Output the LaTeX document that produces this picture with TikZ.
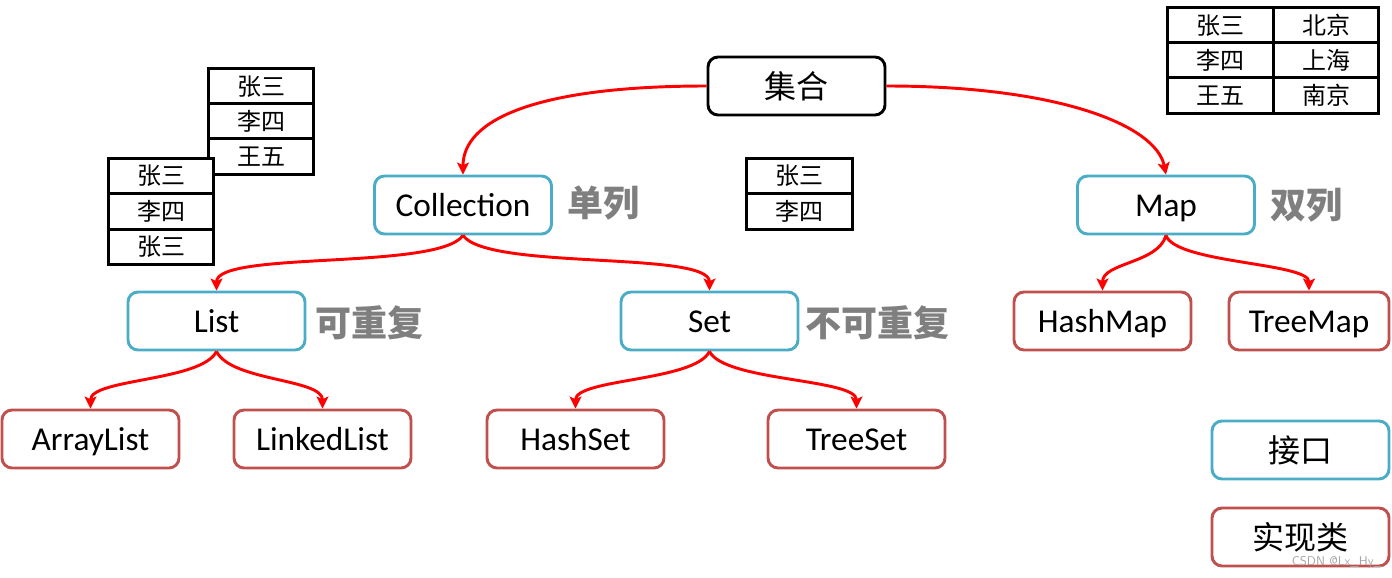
\documentclass[tikz,border=0pt]{standalone}
\usepackage{fontspec}
\setmainfont{Carlito}
\newfontfamily\cjk{Noto Sans CJK SC}
\usetikzlibrary{arrows.meta}
\definecolor{ifblue}{HTML}{4BACC6}
\definecolor{imred}{HTML}{C0504D}
\definecolor{arrred}{HTML}{FF0000}
\definecolor{lblgray}{HTML}{7F7F7F}
\tikzset{
  box/.style={rounded corners=7.5pt, line width=2.2pt, minimum width=132.75pt, minimum height=43.5pt, inner sep=0pt, fill=white, font=\fontsize{24}{26}\selectfont},
  lat/.style={font=\fontsize{25}{27}\selectfont, text height=21.5pt, text depth=5pt},
  rootbox/.style={box, draw=black},
  ifbox/.style={box, draw=ifblue},
  imbox/.style={box, draw=imred},
  cell/.style={draw=black, line width=2.2pt, fill=white, minimum width=79pt, minimum height=26.5pt, inner sep=0pt, font=\cjk\fontsize{18}{20}\selectfont},
  lbl/.style={text=lblgray, font=\cjk\bfseries\fontsize{27}{29}\selectfont, inner sep=0pt},
  arr/.style={draw=arrred, line width=2.2pt, -{Stealth[length=9pt,width=9pt,inset=2pt]}},
}
\begin{document}
\begin{tikzpicture}[x=0.75pt,y=-0.75pt]
\useasboundingbox (0,0) rectangle (1392,578);
% tables
\node[cell] (ta1) at (261,86.5) {张三};
\node[cell] (ta2) at (261,121.5) {李四};
\node[cell] (ta3) at (261,156.5) {王五};
\node[cell] (tb1) at (161,176) {张三};
\node[cell] (tb2) at (161,211.5) {李四};
\node[cell] (tb3) at (161,247) {张三};
\node[cell] (tc1) at (799.5,176) {张三};
\node[cell] (tc2) at (799.5,211.5) {李四};
\node[cell] (td1) at (1220.5,25.5) {张三};
\node[cell] (td2) at (1220.5,60.5) {李四};
\node[cell] (td3) at (1220.5,95.5) {王五};
\node[cell] (te1) at (1326,25.5) {北京};
\node[cell] (te2) at (1326,60.5) {上海};
\node[cell] (te3) at (1326,95.5) {南京};
% boxes
\node[rootbox] (root) at (796.5,86) {\cjk 集合};
\node[ifbox, lat] (coll) at (463,205) {Collection};
\node[ifbox, lat] (map) at (1166,205) {Map};
\node[ifbox, lat] (list) at (216.5,321) {List};
\node[ifbox, lat] (set) at (709.5,321) {Set};
\node[imbox, lat] (hmap) at (1102.5,321) {HashMap};
\node[imbox, lat, minimum width=120pt] (tmap) at (1309,321) {TreeMap};
\node[imbox, lat] (alist) at (90.5,439) {ArrayList};
\node[imbox, lat] (llist) at (322.5,439) {LinkedList};
\node[imbox, lat] (hset) at (575.5,439) {HashSet};
\node[imbox, lat] (tset) at (856.5,439) {TreeSet};
\node[ifbox] (legif) at (1300.5,450) {\cjk 接口};
\node[imbox] (legim) at (1300.5,537) {\cjk 实现类};
% labels
\node[lbl] (l1) at (603,203) {单列};
\node[lbl] (l2) at (1306,205) {双列};
\node[lbl] (l3) at (369,323) {可重复};
\node[lbl] (l4) at (877,323) {不可重复};
\node[text=black!35, font=\sffamily\fontsize{9.5}{10}\selectfont, inner sep=0pt] (wm) at (1337,562) {CSDN @Lx\_Hy\_};
% arrows
\draw[arr] (root.west) .. controls +(-170,0) and +(0,-55) .. (coll.north);
\draw[arr] (root.east) .. controls +(170,0) and +(-10,-50) .. (map.north);
\draw[arr] (coll.south) .. controls +(-25,35) and +(0,-40) .. (list.north);
\draw[arr] (coll.south) .. controls +(25,35) and +(0,-40) .. (set.north);
\draw[arr] (list.south) .. controls +(-15,30) and +(0,-30) .. (alist.north);
\draw[arr] (list.south) .. controls +(15,30) and +(0,-30) .. (llist.north);
\draw[arr] (set.south) .. controls +(-15,30) and +(0,-30) .. (hset.north);
\draw[arr] (set.south) .. controls +(15,30) and +(0,-30) .. (tset.north);
\draw[arr] (map.south) .. controls +(-8,28) and +(0,-28) .. (hmap.north);
\draw[arr] (map.south) .. controls +(10,28) and +(0,-28) .. (tmap.north);
\end{tikzpicture}
\end{document}
